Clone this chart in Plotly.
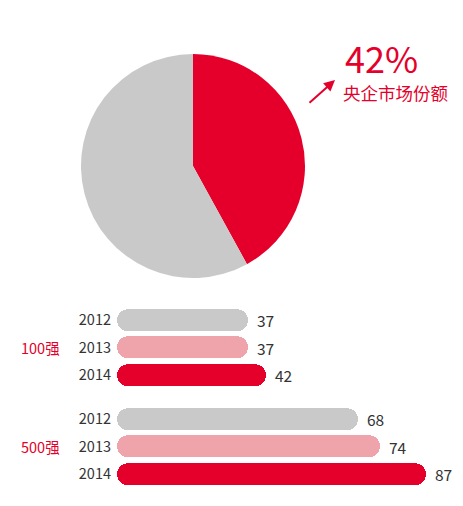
import plotly.graph_objects as go

# ---- data ----
pie_labels = ["央企", "其他"]
pie_values = [42, 58]
share_text = "42%"
share_label = "央企市场份额"

years = ["2012", "2013", "2014"]
groups = ["100强", "500强"]
values_100 = [37, 37, 42]
values_500 = [68, 74, 87]

RED = "#e4002b"
PINK = "#efa3ab"
GRAY = "#c9c9c9"
TXT = "#333333"
FONT = "Noto Sans CJK SC"

row_pos_100 = [0, 1, 2]
row_pos_500 = [3.6, 4.6, 5.6]

# page has an 8px body margin; work in window pixels
OFF = 8
W, H = 463 - OFF, 506 - OFF


def px(x):
    return (x - OFF) / W


def py(y):
    return 1 - (y - OFF) / H


fig = go.Figure()

fig.add_trace(go.Pie(
    labels=pie_labels, values=pie_values, sort=False, direction="clockwise",
    rotation=0, marker=dict(colors=[RED, GRAY], line=dict(width=0)),
    textinfo="none", hoverinfo="label+percent",
    domain=dict(x=[px(81), px(305)], y=[py(278), py(54)]),
    showlegend=False,
))

all_vals = values_100 + values_500
all_pos = row_pos_100 + row_pos_500
all_cols = [GRAY, PINK, RED] * 2
all_years = years * 2

# right part (rounded at value end) and left part (rounded at zero end)
fig.add_trace(go.Bar(
    orientation="h", y=all_pos, x=[v * 0.6 for v in all_vals],
    base=[v * 0.4 for v in all_vals], width=0.8,
    marker=dict(color=all_cols, cornerradius="50%", line=dict(width=0)),
    showlegend=False, hoverinfo="skip", xaxis="x", yaxis="y",
))
fig.add_trace(go.Bar(
    orientation="h", y=all_pos, x=[-v * 0.6 for v in all_vals],
    base=[v * 0.6 for v in all_vals], width=0.8,
    marker=dict(color=all_cols, cornerradius="50%", line=dict(width=0)),
    showlegend=False, hoverinfo="skip", xaxis="x", yaxis="y",
))

annotations = []
for v, p in zip(all_vals, all_pos):
    annotations.append(dict(
        x=v, y=p, xref="x", yref="y", text=str(v), showarrow=False,
        xanchor="left", yanchor="middle", xshift=7,
        font=dict(family=FONT, size=15.5, color=TXT),
    ))
for g, p in zip(groups, [row_pos_100[1], row_pos_500[1]]):
    annotations.append(dict(
        x=px(62), y=p, xref="paper", yref="y", text=g, showarrow=False,
        xanchor="right", yanchor="middle",
        font=dict(family=FONT, size=14.5, color=RED),
    ))
annotations.append(dict(
    x=px(381), y=py(57), xref="paper", yref="paper", text=share_text,
    showarrow=False, xanchor="center", yanchor="middle",
    font=dict(family=FONT, size=36, color=RED),
))
annotations.append(dict(
    x=px(395), y=py(92), xref="paper", yref="paper", text=share_label,
    showarrow=False, xanchor="center", yanchor="middle",
    font=dict(family=FONT, size=17.5, color=RED),
))
annotations.append(dict(
    x=px(335), y=py(80), xref="paper", yref="paper", text="",
    showarrow=True, ax=-27, ay=24, arrowhead=2, arrowsize=1.1, arrowwidth=2,
    arrowcolor=RED,
))

fig.update_layout(
    width=W, height=H, margin=dict(l=0, r=0, t=0, b=0),
    paper_bgcolor="white", plot_bgcolor="white",
    barmode="overlay", bargap=0,
    font=dict(family=FONT, color=TXT),
    xaxis=dict(domain=[px(117), 1], range=[0, (463 - 117) / 3.55],
               visible=False, fixedrange=True),
    yaxis=dict(domain=[py(487.75), py(306.25)], range=[6.1, -0.5],
               tickvals=all_pos, ticktext=all_years, showgrid=False,
               zeroline=False, showline=False, ticks="",
               tickfont=dict(family=FONT, size=14.5, color=TXT),
               ticklabelstandoff=5, fixedrange=True),
    annotations=annotations,
)

fig.write_html("out.html")
